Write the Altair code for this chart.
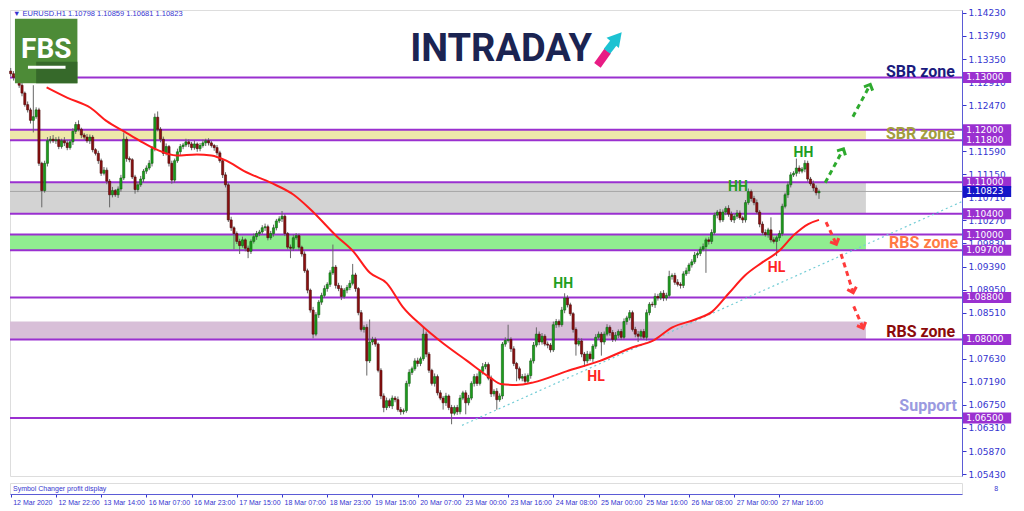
import json
import altair as alt
import pandas as pd

# ---------------- data ----------------
first_open = 1.1312
closes = [
    1.1307, 1.1300, 1.1294, 1.1285, 1.1270, 1.1248, 1.1238, 1.1218, 1.1225, 1.1238,
    1.1136, 1.1084, 1.1136, 1.1179, 1.1182, 1.1179, 1.1181, 1.1168, 1.1179, 1.1175,
    1.1166, 1.1177, 1.1197, 1.1210, 1.1201, 1.1190, 1.1186, 1.1179, 1.1186, 1.1162,
    1.1155, 1.1141, 1.1117, 1.1123, 1.1102, 1.1076, 1.1084, 1.1076, 1.1087, 1.1108,
    1.1182, 1.1145, 1.1143, 1.1110, 1.1086, 1.1095, 1.1106, 1.1121, 1.1127, 1.1136,
    1.1164, 1.1224, 1.1201, 1.1182, 1.1155, 1.1168, 1.1136, 1.1104, 1.1141, 1.1158,
    1.1168, 1.1171, 1.1177, 1.1173, 1.1166, 1.1173, 1.1164, 1.1170, 1.1175, 1.1179,
    1.1175, 1.1170, 1.1166, 1.1156, 1.1141, 1.1114, 1.1095, 1.1028, 1.1013, 1.1002,
    1.0987, 1.0979, 1.0990, 1.0974, 1.0968, 1.0987, 1.0996, 1.1002, 1.1005, 1.1013,
    1.1015, 1.0994, 1.1002, 1.1013, 1.1026, 1.1030, 1.1035, 1.1002, 1.0976, 1.0974,
    1.0994, 1.0998, 1.0976, 1.0963, 1.0931, 1.0894, 1.0856, 1.0810, 1.0847, 1.0871,
    1.0884, 1.0897, 1.0905, 1.0927, 1.0938, 1.0903, 1.0897, 1.0882, 1.0894, 1.0899,
    1.0907, 1.0923, 1.0897, 1.0851, 1.0819, 1.0823, 1.0759, 1.0795, 1.0800, 1.0791,
    1.0741, 1.0692, 1.0670, 1.0683, 1.0673, 1.0688, 1.0685, 1.0666, 1.0662, 1.0664,
    1.0716, 1.0737, 1.0744, 1.0759, 1.0754, 1.0763, 1.0810, 1.0772, 1.0741, 1.0716,
    1.0729, 1.0698, 1.0688, 1.0679, 1.0692, 1.0670, 1.0659, 1.0670, 1.0662, 1.0688,
    1.0698, 1.0679, 1.0688, 1.0716, 1.0729, 1.0716, 1.0739, 1.0748, 1.0752, 1.0726,
    1.0696, 1.0701, 1.0685, 1.0692, 1.0791, 1.0798, 1.0800, 1.0782, 1.0754, 1.0744,
    1.0726, 1.0729, 1.0720, 1.0731, 1.0759, 1.0789, 1.0810, 1.0795, 1.0806, 1.0791,
    1.0789, 1.0780, 1.0828, 1.0834, 1.0828, 1.0856, 1.0879, 1.0866, 1.0849, 1.0819,
    1.0791, 1.0797, 1.0772, 1.0759, 1.0772, 1.0763, 1.0787, 1.0804, 1.0810, 1.0795,
    1.0810, 1.0823, 1.0813, 1.0800, 1.0808, 1.0815, 1.0804, 1.0834, 1.0841, 1.0851,
    1.0819, 1.0810, 1.0806, 1.0815, 1.0804, 1.0851, 1.0867, 1.0866, 1.0882, 1.0879,
    1.0888, 1.0879, 1.0884, 1.0920, 1.0922, 1.0909, 1.0905, 1.0903, 1.0925, 1.0931,
    1.0942, 1.0948, 1.0961, 1.0964, 1.0972, 1.0977, 1.0990, 1.0987, 1.1004, 1.1037,
    1.1043, 1.1028, 1.1043, 1.1050, 1.1039, 1.1028, 1.1035, 1.1041, 1.1032, 1.1028,
    1.1061, 1.1082, 1.1069, 1.1061, 1.1043, 1.1020, 1.1004, 1.1000, 1.1009, 1.0990,
    1.0987, 1.0994, 1.1002, 1.1054, 1.1076, 1.1095, 1.1114, 1.1117, 1.1127, 1.1121,
    1.1125, 1.1136, 1.1106, 1.1097, 1.1089, 1.10798, 1.10823,
]
# wick lengths above / below the body, in pips
upper_wick = [
    6, 5, 8, 4, 5, 3, 6, 4, 60, 5,
    4, 3, 5, 7, 6, 8, 5, 6, 4, 7,
    5, 4, 6, 5, 8, 3, 4, 6, 5, 4,
    3, 5, 4, 6, 5, 4, 7, 3, 5, 6,
    13, 5, 4, 3, 4, 5, 6, 4, 5, 6,
    5, 7, 11, 4, 5, 6, 3, 5, 4, 6,
    5, 4, 6, 5, 4, 7, 3, 5, 6, 4,
    5, 4, 3, 5, 4, 3, 5, 4, 6, 3,
    4, 5, 6, 3, 5, 4, 6, 5, 4, 5,
    6, 4, 5, 6, 4, 5, 10, 4, 3, 5,
    6, 5, 4, 3, 5, 4, 3, 6, 5, 4,
    5, 6, 4, 5, 43, 4, 5, 6, 4, 5,
    6, 21, 4, 3, 5, 4, 6, 43, 5, 4,
    3, 4, 5, 6, 4, 5, 4, 6, 5, 4,
    5, 6, 4, 5, 6, 4, 14, 5, 4, 3,
    6, 4, 5, 4, 6, 3, 5, 4, 5, 6,
    4, 5, 6, 4, 5, 6, 4, 7, 5, 4,
    5, 4, 6, 5, 4, 6, 28, 4, 5, 3,
    4, 5, 6, 4, 5, 6, 13, 5, 6, 4,
    5, 4, 6, 5, 4, 6, 9, 5, 4, 3,
    4, 6, 5, 4, 6, 5, 4, 6, 5, 4,
    5, 6, 4, 5, 6, 4, 5, 6, 4, 5,
    4, 5, 6, 4, 5, 6, 4, 5, 6, 5,
    4, 6, 5, 11, 4, 5, 6, 4, 5, 6,
    4, 5, 6, 4, 5, 6, 4, 5, 6, 5,
    4, 6, 5, 4, 6, 5, 4, 6, 5, 4,
    5, 6, 4, 5, 6, 4, 5, 6, 4, 24,
    5, 4, 6, 5, 4, 6, 5, 4, 18, 5,
    4, 6, 5, 4, 6, 5, 3.6,
]
lower_wick = [
    5, 6, 4, 5, 6, 4, 5, 6, 23, 4,
    5, 32, 4, 6, 5, 4, 6, 5, 4, 6,
    5, 4, 6, 5, 4, 6, 5, 4, 6, 5,
    4, 6, 5, 4, 6, 24, 5, 4, 6, 5,
    4, 6, 5, 4, 8, 5, 4, 6, 5, 4,
    6, 5, 4, 6, 5, 4, 6, 7, 5, 4,
    6, 5, 4, 6, 5, 4, 6, 5, 4, 6,
    5, 4, 6, 5, 4, 6, 5, 4, 6, 30,
    5, 16, 4, 6, 13, 5, 4, 6, 5, 4,
    6, 5, 4, 6, 5, 4, 6, 5, 4, 19,
    5, 4, 6, 5, 4, 6, 5, 8, 4, 6,
    5, 4, 6, 5, 4, 6, 5, 7, 4, 6,
    5, 4, 6, 5, 4, 6, 28, 4, 6, 5,
    4, 6, 9, 5, 4, 6, 5, 4, 6, 5,
    4, 6, 5, 4, 6, 5, 4, 6, 5, 4,
    6, 5, 4, 13, 6, 5, 21, 4, 6, 5,
    4, 22, 5, 4, 6, 5, 4, 6, 5, 4,
    6, 5, 19, 4, 6, 5, 4, 6, 5, 24,
    4, 6, 5, 4, 6, 5, 4, 6, 5, 4,
    6, 5, 4, 6, 5, 4, 6, 5, 4, 6,
    22, 4, 6, 11, 5, 4, 6, 5, 4, 26,
    5, 4, 6, 5, 4, 6, 5, 4, 6, 5,
    4, 6, 11, 5, 4, 6, 5, 4, 6, 5,
    4, 6, 5, 4, 6, 5, 4, 6, 5, 4,
    6, 5, 4, 6, 5, 4, 50, 6, 5, 4,
    6, 5, 4, 6, 5, 4, 6, 5, 4, 6,
    5, 4, 6, 5, 4, 6, 5, 4, 6, 5,
    4, 28, 6, 5, 4, 6, 5, 4, 6, 5,
    4, 6, 5, 4, 6, 5, 11.7,
]

# moving average (red line)
ma_index = [12.7, 20.1, 28.2, 34.1, 40.1, 45.7, 51.7, 58.7, 65.8, 71.0, 76.3, 82.6,
            92.0, 100.1, 106.1, 115.5, 121.2, 127.1, 133.1, 138.7, 145.7, 152.4,
            161.5, 169.9, 173.4, 179.0, 185.0, 196.6, 208.5, 220.1, 227.1, 234.1,
            242.2, 248.2, 254.1, 259.8, 265.7, 271.7, 277.3, 282.2, 286.0]
ma_price = [1.1281, 1.1261, 1.1242, 1.1216, 1.1197, 1.1179, 1.1162, 1.1151, 1.1153,
            1.1151, 1.1141, 1.1121, 1.1099, 1.1076, 1.1048, 1.0996, 1.0968, 1.0927,
            1.0907, 1.0862, 1.0825, 1.0795, 1.0759, 1.0726, 1.0715, 1.0713, 1.0718,
            1.0739, 1.0759, 1.0785, 1.0797, 1.0823, 1.0838, 1.0853, 1.0888, 1.0922,
            1.0946, 1.0968, 1.1000, 1.1020, 1.1028]

# dotted trend line
trend_index = [159.7, 336.6]
trend_price = [1.0636, 1.1063]

# horizontal levels and zones
level_prices = [1.13, 1.12, 1.118, 1.11, 1.104, 1.10, 1.097, 1.088, 1.08, 1.065]
level_labels = ["1.13000", "1.12000", "1.11800", "1.11000", "1.10400",
                "1.10000", "1.09700", "1.08800", "1.08000", "1.06500"]
current_price = 1.10823
current_label = "1.10823"
zone_low = [1.118, 1.104, 1.097, 1.0800]
zone_high = [1.120, 1.110, 1.100, 1.0834]
zone_fill = ["#eee8aa", "#d3d3d3", "#90ee90", "#d8bfd8"]
zone_end = 302.6

# axis ticks (1.12030 and 1.08070 sit fully under the level boxes)
y_ticks = [1.05430, 1.05870, 1.06310, 1.06750, 1.07190, 1.07630, 1.08070, 1.08510,
           1.08950, 1.09390, 1.09830, 1.10270, 1.10710, 1.11150, 1.11590, 1.12030,
           1.12470, 1.12910, 1.13350, 1.13790, 1.14230]
y_ticks_hidden = [1.08070, 1.12030]
x_tick_index = [0, 16, 32, 48, 64, 80, 96, 112, 128, 144, 160, 176, 192, 208, 224, 240, 256, 272]
x_tick_labels = ["12 Mar 2020", "12 Mar 22:00", "13 Mar 14:00", "16 Mar 07:00", "16 Mar 23:00",
                 "17 Mar 15:00", "18 Mar 07:00", "18 Mar 23:00", "19 Mar 15:00", "20 Mar 07:00",
                 "23 Mar 00:00", "23 Mar 16:00", "24 Mar 08:00", "25 Mar 00:00", "25 Mar 16:00",
                 "26 Mar 08:00", "27 Mar 00:00", "27 Mar 16:00"]

# annotations
ann_text = ["SBR zone", "SBR zone", "RBS zone", "RBS zone", "Support",
            "HH", "HH", "HH", "HL", "HL"]
ann_index = [321.9, 321.9, 323.0, 322.0, 324.6, 195.5, 257.3, 280.5, 207.1, 271.0]
ann_price = [1.1311, 1.1192, 1.0983, 1.0815, 1.0672, 1.0905, 1.1091, 1.1155, 1.0728, 1.0936]
ann_color = ["#1b1b7e", "#a29d3e", "#ff7a45", "#8b0a0a", "#9a9ae0",
             "#1f9e1f", "#1f9e1f", "#1f9e1f", "#ff2424", "#ff2424"]
ann_size = [16, 16, 16, 16, 16, 14, 14, 14, 14, 14]

# dashed arrows
arrow_id = ["g1", "g1", "g2", "g2", "r1", "r1", "r2", "r2", "r3", "r3"]
arrow_index = [288.2, 294.5, 298.0, 304.0, 288.5, 292.0, 293.8, 298.0, 298.3, 301.5]
arrow_price = [1.1099, 1.1162, 1.1225, 1.1285, 1.1024, 1.0983, 1.0963, 1.0891, 1.0863, 1.0823]
arrow_color = ["#2eaa2e", "#2eaa2e", "#2eaa2e", "#2eaa2e", "#ff3a3a",
               "#ff3a3a", "#ff3a3a", "#ff3a3a", "#ff3a3a", "#ff3a3a"]
head_index = [294.5, 304.0, 292.0, 298.0, 301.5]
head_price = [1.1162, 1.1285, 1.0983, 1.0891, 1.0823]
head_angle = [28, 24, 156, 163, 157]
head_color = ["#2eaa2e", "#2eaa2e", "#ff3a3a", "#ff3a3a", "#ff3a3a"]

header_text = "\u25bc EURUSD.H1  1.10798 1.10859 1.10681 1.10823"

# ---------------- layout constants ----------------
W, H = 952, 466
X_MIN, X_MAX = -0.25, 336.6
Y_MIN, Y_MAX = 1.05393, 1.14286
BLUE = "#3535cf"
FRAME = "#5b5bd6"
PURPLE = "#9a30d0"

hidden_test = " || ".join(f"abs(datum.value - {v}) < 0.000001" for v in y_ticks_hidden)
xs = alt.Scale(domain=[X_MIN, X_MAX], nice=False, zero=False)
ys = alt.Scale(domain=[Y_MIN, Y_MAX], nice=False, zero=False)
yaxis = alt.Axis(orient="right", values=y_ticks, title=None, grid=False,
                 labelExpr=f"({hidden_test}) ? '' : format(datum.value, '.5f')",
                 labelColor=BLUE, labelFont="DejaVu Sans", labelFontSize=9,
                 tickColor=BLUE, tickSize=4, domainColor=FRAME, labelPadding=2,
                 labelOverlap=False, labelFlush=False, labelBound=False)


def xq(f):
    return alt.X(f, type="quantitative", scale=xs, axis=None)


def yq(f):
    return alt.Y(f, type="quantitative", scale=ys, axis=yaxis)


# candles
opens = [first_open] + closes[:-1]
rows = []
for i, (o, c, u, l) in enumerate(zip(opens, closes, upper_wick, lower_wick)):
    rows.append(dict(i=i, open=o, close=c,
                     high=max(o, c) + u * 0.0001, low=min(o, c) - l * 0.0001,
                     dir="up" if c >= o else "down"))
candles = pd.DataFrame(rows)

zones = pd.DataFrame(dict(lo=zone_low, hi=zone_high, fill=zone_fill,
                          x0=[X_MIN] * 4, x1=[zone_end] * 4))
zone_layer = alt.Chart(zones).mark_rect().encode(
    x=xq("x0"), x2="x1", y=yq("lo"), y2="hi", fill=alt.Fill("fill:N", scale=None))

levels = pd.DataFrame(dict(price=level_prices, label=level_labels))
level_layer = alt.Chart(levels).mark_rule(color=PURPLE, strokeWidth=2).encode(y=yq("price"))
cur_df = pd.DataFrame(dict(price=[current_price], label=[current_label]))
cur_layer = alt.Chart(cur_df).mark_rule(color="#a8a8a8", strokeWidth=1).encode(y=yq("price"))

trend = pd.DataFrame(dict(i=trend_index, p=trend_price))
trend_layer = alt.Chart(trend).mark_line(color="#74cdd6", strokeWidth=1.2, strokeDash=[2, 3]).encode(
    x=xq("i"), y=yq("p"))

wick_layer = alt.Chart(candles).mark_rule(color="#666666", strokeWidth=1).encode(
    x=xq("i"), y=yq("low"), y2="high")
body_layer = alt.Chart(candles).transform_calculate(
    x0="datum.i - 0.38", x1="datum.i + 0.38"
).mark_rect(strokeWidth=0.6).encode(
    x=xq("x0"), x2="x1", y=yq("open"), y2="close",
    fill=alt.Fill("dir:N", scale=alt.Scale(domain=["up", "down"], range=["#1c9e1c", "#8e1010"]), legend=None),
    stroke=alt.Stroke("dir:N", scale=alt.Scale(domain=["up", "down"], range=["#0f5f0f", "#4a0606"]), legend=None),
)

ma = pd.DataFrame(dict(i=ma_index, p=ma_price))
ma_layer = alt.Chart(ma).mark_line(color="#ff1c1c", strokeWidth=2, interpolate="monotone").encode(
    x=xq("i"), y=yq("p"))

arrows = pd.DataFrame(dict(id=arrow_id, i=arrow_index, p=arrow_price, c=arrow_color))
arrow_layer = alt.Chart(arrows).mark_line(strokeWidth=3, strokeDash=[5, 4]).encode(
    x=xq("i"), y=yq("p"), detail="id:N", color=alt.Color("c:N", scale=None))
heads = pd.DataFrame(dict(i=head_index, p=head_price, a=head_angle, c=head_color))
head_layer = alt.Chart(heads).mark_point(
    shape="M -1 0.8 L 0 -0.2 L 1 0.8", filled=False, strokeWidth=3, size=90, opacity=1
).encode(x=xq("i"), y=yq("p"), angle=alt.Angle("a:Q", scale=None),
         stroke=alt.Stroke("c:N", scale=None))

ann = pd.DataFrame(dict(t=ann_text, i=ann_index, p=ann_price, c=ann_color, s=ann_size))
ann_layer = alt.Chart(ann).mark_text(font="Roboto", fontWeight="bold", baseline="middle", align="center").encode(
    x=xq("i"), y=yq("p"), text="t:N", color=alt.Color("c:N", scale=None), size=alt.Size("s:Q", scale=None))

# logos (decoration in data space)
fbs_box = pd.DataFrame(dict(x0=[1.5], x1=[23.6], y0=[1.12888], y1=[1.14118]))
fbs_layer = alt.Chart(fbs_box).mark_rect(color="#4d8b37").encode(x=xq("x0"), x2="x1", y=yq("y0"), y2="y1")
fbs_shadow = pd.DataFrame(dict(x0=[9.0], x1=[23.6], y0=[1.12888], y1=[1.1330]))
fbs_shadow_layer = alt.Chart(fbs_shadow).mark_rect(color="#36692a").encode(x=xq("x0"), x2="x1", y=yq("y0"), y2="y1")
fbs_txt = pd.DataFrame(dict(i=[12.6], p=[1.13522], t=["FBS"]))
fbs_txt_layer = alt.Chart(fbs_txt).mark_text(font="Roboto", fontWeight="bold", fontSize=28, color="white",
                                             baseline="middle").encode(x=xq("i"), y=yq("p"), text="t:N")
fbs_bar = pd.DataFrame(dict(x0=[6.1], x1=[19.4], y0=[1.13167], y1=[1.13223]))
fbs_bar_layer = alt.Chart(fbs_bar).mark_rect(color="white").encode(x=xq("x0"), x2="x1", y=yq("y0"), y2="y1")

intra = pd.DataFrame(dict(i=[173.5], p=[1.13522], t=["INTRADAY"]))
intra_layer = alt.Chart(intra).mark_text(font="Roboto", fontWeight="bold", fontSize=38, color="#1b2452",
                                         baseline="middle").encode(x=xq("i"), y=yq("p"), text="t:N")
icon_a = pd.DataFrame(dict(i=[207.6, 211.2], p=[1.1323, 1.1350]))
icon_a_layer = alt.Chart(icon_a).mark_line(color="#e81c84", strokeWidth=8).encode(x=xq("i"), y=yq("p"))
icon_b = pd.DataFrame(dict(i=[211.0, 213.6], p=[1.1350, 1.1368]))
icon_b_layer = alt.Chart(icon_b).mark_line(color="#1cc2d2", strokeWidth=8).encode(x=xq("i"), y=yq("p"))
icon_h = pd.DataFrame(dict(i=[214.6], p=[1.1376], a=[40]))
icon_h_layer = alt.Chart(icon_h).mark_point(shape="triangle-up", filled=True, size=260, color="#1cc2d2",
                                            opacity=1).encode(x=xq("i"), y=yq("p"), angle=alt.Angle("a:Q", scale=None))

hdr = pd.DataFrame(dict(i=[0.8], p=[1.1421], t=[header_text]))
hdr_layer = alt.Chart(hdr).mark_text(font="Liberation Sans", fontSize=7.5, color=BLUE, align="left",
                                     baseline="middle").encode(x=xq("i"), y=yq("p"), text="t:N")

# price boxes on the right axis
box_x0, box_x1, box_tx = 336.95, 354.0, 338.1
boxes = pd.DataFrame(dict(price=level_prices + [current_price], label=level_labels + [current_label],
                          c=[PURPLE] * len(level_prices) + ["#1414c8"]))
boxes["x0"] = box_x0
boxes["x1"] = box_x1
boxes["tx"] = box_tx
box_layer = alt.Chart(boxes).transform_calculate(
    y0="datum.price - 0.00105", y1="datum.price + 0.00105"
).mark_rect().encode(x=xq("x0"), x2="x1", y=yq("y0"), y2="y1", fill=alt.Fill("c:N", scale=None))
box_txt_layer = alt.Chart(boxes).mark_text(font="DejaVu Sans", fontSize=9, color="white", align="left",
                                           baseline="middle").encode(x=xq("tx"), y=yq("price"), text="label:N")

main = alt.layer(
    zone_layer, level_layer, cur_layer, trend_layer, wick_layer, body_layer, ma_layer,
    arrow_layer, head_layer, ann_layer, fbs_layer, fbs_shadow_layer, fbs_txt_layer, fbs_bar_layer,
    intra_layer, icon_a_layer, icon_b_layer, icon_h_layer, hdr_layer, box_layer, box_txt_layer,
).properties(width=W, height=H)

# bottom sub-window with the time axis
xaxis = alt.Axis(values=x_tick_index, labelExpr=json.dumps(x_tick_labels) + "[round(datum.value / 16)]",
                 labelAlign="left", labelOffset=2, labelFont="Liberation Sans", labelFontSize=7,
                 labelColor=BLUE, tickColor=BLUE, tickSize=3, domainColor=FRAME, title=None, grid=False,
                 labelFlush=False, labelOverlap=False, labelBound=False, labelPadding=1)
sub = pd.DataFrame(dict(i=[0.8, 348.0], v=[0.5, 0.5], t=["Symbol Changer profit display", "8"]))
bottom = alt.Chart(sub).mark_text(font="Liberation Sans", fontSize=7, color=BLUE, align="left",
                                  baseline="middle").encode(
    x=alt.X("i:Q", scale=xs, axis=xaxis),
    y=alt.Y("v:Q", scale=alt.Scale(domain=[0, 1]), axis=None),
    text="t:N",
).properties(width=W, height=11)

chart = alt.vconcat(main, bottom, spacing=2).resolve_scale(
    x="shared", y="independent"
).properties(padding=0).configure_view(stroke=FRAME, strokeWidth=1).configure(background="white")

chart.save("out.html", embed_options={"renderer": "svg", "actions": False})
